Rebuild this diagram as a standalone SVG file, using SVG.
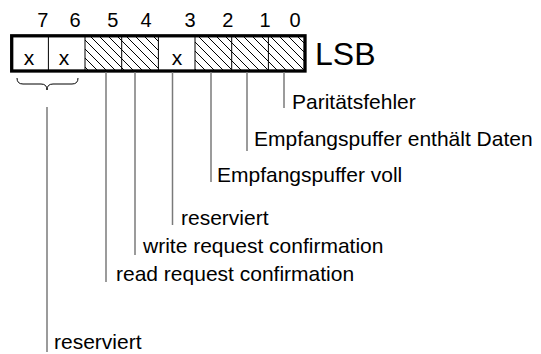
<svg xmlns="http://www.w3.org/2000/svg" width="541" height="354" viewBox="0 0 541 354">
<style>
text{font-family:"Liberation Sans",Arial,sans-serif;fill:#000}
.num{font-size:20px;text-anchor:middle}
.x{font-size:21px;text-anchor:middle}
.lbl{font-size:21px}
.lead{stroke:#7a7a7a;stroke-width:1.5;fill:none}
.div{stroke:#000;stroke-width:1;fill:none}
</style>
<defs>
<pattern id="hatch" patternUnits="userSpaceOnUse" width="9" height="9">
<path d="M0,0 L9,9 M-1,8 L1,10 M8,-1 L10,1" stroke="#000" stroke-width="1"/>
</pattern>
</defs>
<rect width="541" height="354" fill="#fff"/>
<g id="register">
<rect x="85" y="36" width="73.4" height="35" fill="url(#hatch)"/>
<rect x="195" y="36" width="110" height="35" fill="url(#hatch)"/>
<path class="div" d="M48.4,36V71 M85,36V71 M121.7,36V71 M158.4,36V71 M195,36V71 M231.7,36V71 M268.4,36V71"/>
<rect x="11.7" y="35.8" width="293.3" height="35.2" fill="none" stroke="#000" stroke-width="3.3"/>
<text class="x" x="29" y="65">x</text>
<text class="x" x="64" y="65">x</text>
<text class="x" x="177" y="65">x</text>
</g>
<g id="bitnumbers">
<text class="num" x="42.7" y="27">7</text>
<text class="num" x="75" y="27">6</text>
<text class="num" x="112.7" y="27">5</text>
<text class="num" x="146" y="27">4</text>
<text class="num" x="190" y="27">3</text>
<text class="num" x="227.7" y="27">2</text>
<text class="num" x="265" y="27">1</text>
<text class="num" x="295" y="27">0</text>
</g>
<g id="lsb"><text x="315" y="65" style="font-size:32px">LSB</text></g>
<g id="connectors">
<path d="M17,78 Q17,84 23,84 L41,84 Q47,84 47,90 Q47,84 53,84 L72,84 Q78,84 78,78" fill="none" stroke="#000" stroke-width="1"/>
<path class="lead" d="M284,72V108"/>
<path class="lead" d="M247,72V151"/>
<path class="lead" d="M211,72V182"/>
<path class="lead" d="M172.5,72V225"/>
<path class="lead" d="M135,72V255"/>
<path class="lead" d="M106,72V282"/>
<path class="lead" d="M47,107V352"/>
</g>
<g id="bit0"><text class="lbl" x="292" y="109">Paritätsfehler</text></g>
<g id="bit1"><text class="lbl" x="254" y="146">Empfangspuffer enthält Daten</text></g>
<g id="bit2"><text class="lbl" x="217" y="182">Empfangspuffer voll</text></g>
<g id="bit3"><text class="lbl" x="181" y="225">reserviert</text></g>
<g id="bit4"><text class="lbl" x="143" y="253">write request confirmation</text></g>
<g id="bit5"><text class="lbl" x="116" y="281">read request confirmation</text></g>
<g id="bit76"><text class="lbl" x="54" y="349">reserviert</text></g>
</svg>
